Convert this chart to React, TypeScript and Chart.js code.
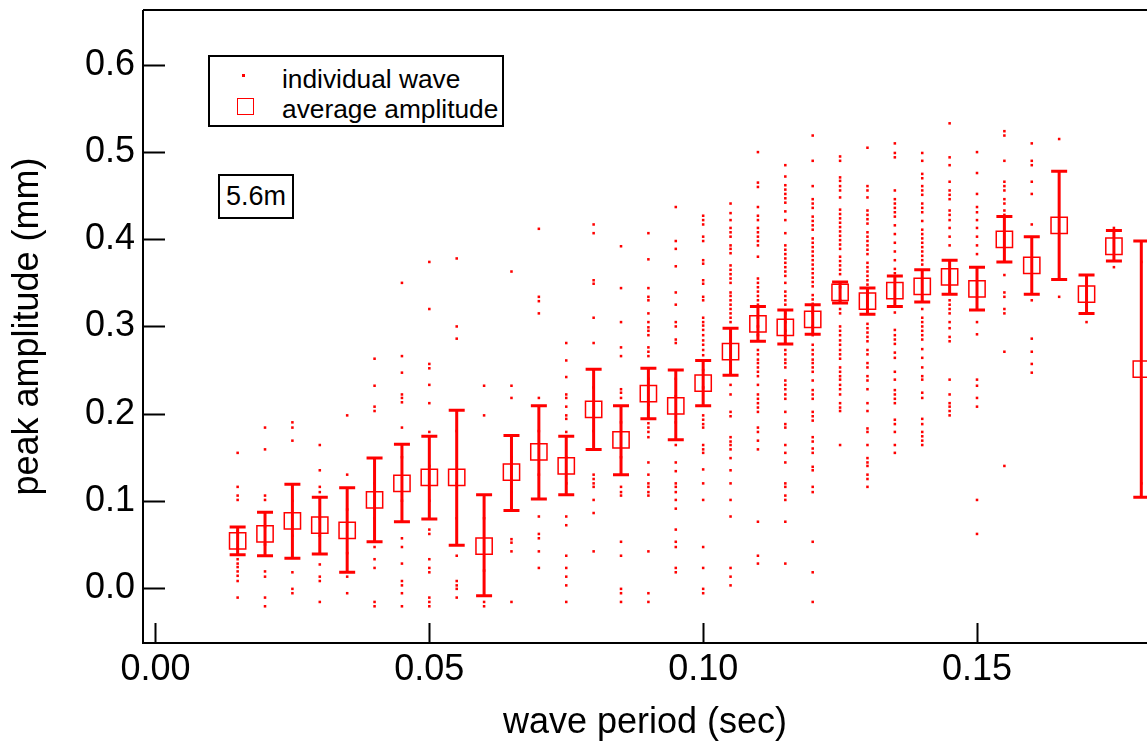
import React, { useEffect, useRef } from "react";
import { Chart, registerables } from "chart.js";

Chart.register(...registerables);

const FONT = '"Liberation Sans", Arial, Helvetica, sans-serif';
const RED = "#ff0000";

// wave period (sec) for each averaged bin
const periods = [
  0.015, 0.02, 0.025, 0.03, 0.035, 0.04, 0.045, 0.05, 0.055, 0.06, 0.065, 0.07,
  0.075, 0.08, 0.085, 0.09, 0.095, 0.1, 0.105, 0.11, 0.115, 0.12, 0.125, 0.13,
  0.135, 0.14, 0.145, 0.15, 0.155, 0.16, 0.165, 0.17, 0.175, 0.18,
];
// average peak amplitude (mm)
const avgAmp = [
  0.054, 0.062, 0.077, 0.072, 0.066, 0.101, 0.12, 0.127, 0.127, 0.048, 0.133,
  0.156, 0.14, 0.205, 0.17, 0.223, 0.209, 0.235, 0.271, 0.303, 0.299, 0.308,
  0.339, 0.329, 0.341, 0.346, 0.357, 0.343, 0.4, 0.37, 0.416, 0.337, 0.392, 0.251,
];
// error bar upper ends
const avgHigh = [
  0.07, 0.087, 0.119, 0.104, 0.115, 0.149, 0.165, 0.174, 0.204, 0.107, 0.175,
  0.209, 0.174, 0.251, 0.209, 0.252, 0.25, 0.261, 0.298, 0.323, 0.319, 0.325,
  0.351, 0.344, 0.358, 0.365, 0.376, 0.368, 0.426, 0.403, 0.478, 0.359, 0.41, 0.398,
];
// error bar lower ends
const avgLow = [
  0.038, 0.037, 0.034, 0.039, 0.018, 0.053, 0.076, 0.079, 0.049, -0.009, 0.089,
  0.102, 0.107, 0.159, 0.13, 0.194, 0.17, 0.209, 0.244, 0.283, 0.28, 0.291,
  0.327, 0.314, 0.323, 0.328, 0.337, 0.319, 0.374, 0.337, 0.354, 0.315, 0.375, 0.104,
];

// individual wave amplitudes, one list per period bin
const dots015 = [0.155, 0.116, 0.106, 0.101, 0.065, 0.045, 0.033, 0.028, 0.024, 0.019, 0.014, 0.008, -0.011];
const dots020 = [0.184, 0.159, 0.106, 0.101, 0.07, 0.05, 0.019, 0.013, -0.011, -0.021];
const dots025 = [0.19, 0.184, 0.169, 0.1, 0.06, 0.018, -0.001, -0.006];
const dots030 = [0.164, 0.135, 0.116, 0.11, 0.08, 0.06, 0.027, 0.013, 0.008, -0.016];
const dots035 = [0.198, 0.13, 0.09, 0.04, 0.013, -0.006];
const dots040 = [0.263, 0.232, 0.208, 0.203, 0.12, 0.08, 0.047, 0.033, 0.023, -0.016, -0.021];
const dots045 = [0.35, 0.266, 0.247, 0.222, 0.218, 0.213, 0.184, 0.15, 0.1, 0.057, 0.047, 0.028, 0.008, 0.003, -0.006, -0.021];
const dots050 = [0.374, 0.32, 0.257, 0.252, 0.233, 0.212, 0.179, 0.14, 0.1, 0.067, 0.062, 0.033, 0.023, 0.018, -0.011, -0.016, -0.021];
const dots055 = [0.378, 0.3, 0.286, 0.18, 0.12, 0.08, 0.037, 0.008, 0.003, -0.001, -0.011];
const dots060 = [0.232, 0.198, 0.08, 0.02, -0.016, -0.021];
const dots065 = [0.363, 0.232, 0.218, 0.15, 0.11, 0.056, 0.052, 0.042, -0.016];
const dots070 = [0.412, 0.334, 0.329, 0.315, 0.218, 0.18, 0.13, 0.082, 0.062, 0.057, 0.042, 0.023];
const dots075 = [0.281, 0.261, 0.242, 0.222, 0.218, 0.208, 0.198, 0.194, 0.179, 0.15, 0.12, 0.082, 0.072, 0.037, 0.023, 0.013, 0.003, -0.016];
const dots080 = [0.417, 0.407, 0.353, 0.349, 0.31, 0.281, 0.23, 0.18, 0.13, 0.125, 0.12, 0.116, 0.101, 0.086, 0.042];
const dots085 = [0.392, 0.344, 0.305, 0.276, 0.266, 0.228, 0.224, 0.218, 0.19, 0.15, 0.116, 0.11, 0.106, 0.053, 0.037, -0.001, -0.006, -0.016];
const dots090 = [0.407, 0.377, 0.344, 0.334, 0.33, 0.315, 0.305, 0.299, 0.295, 0.29, 0.276, 0.271, 0.266, 0.24, 0.21, 0.189, 0.184, 0.179, 0.173, 0.144, 0.13, 0.12, 0.116, 0.11, 0.106, 0.042, -0.006, -0.016];
const dots095 = [0.437, 0.398, 0.389, 0.369, 0.339, 0.325, 0.305, 0.3, 0.285, 0.281, 0.24, 0.22, 0.19, 0.164, 0.144, 0.134, 0.12, 0.116, 0.11, 0.101, 0.091, 0.067, 0.053, 0.047, 0.023, 0.018];
const dots100 = [0.427, 0.422, 0.417, 0.403, 0.398, 0.376, 0.372, 0.353, 0.349, 0.334, 0.33, 0.31, 0.305, 0.301, 0.296, 0.29, 0.284, 0.279, 0.273, 0.267, 0.25, 0.23, 0.198, 0.193, 0.188, 0.184, 0.164, 0.159, 0.155, 0.136, 0.12, 0.101, 0.047, 0.023, -0.001, -0.006];
const dots105 = [0.441, 0.43, 0.422, 0.413, 0.408, 0.403, 0.393, 0.389, 0.384, 0.37, 0.365, 0.36, 0.355, 0.35, 0.339, 0.335, 0.33, 0.325, 0.32, 0.315, 0.31, 0.305, 0.28, 0.26, 0.233, 0.222, 0.202, 0.197, 0.173, 0.168, 0.164, 0.159, 0.149, 0.135, 0.12, 0.101, 0.082, 0.023, 0.013, 0.003];
const dots110 = [0.5, 0.465, 0.46, 0.437, 0.427, 0.422, 0.413, 0.408, 0.403, 0.398, 0.393, 0.38, 0.355, 0.35, 0.345, 0.34, 0.335, 0.33, 0.325, 0.31, 0.3, 0.29, 0.273, 0.268, 0.262, 0.258, 0.253, 0.248, 0.243, 0.233, 0.222, 0.217, 0.212, 0.207, 0.202, 0.184, 0.179, 0.169, 0.159, 0.076, 0.037, 0.028];
const dots115 = [0.485, 0.472, 0.462, 0.457, 0.452, 0.447, 0.442, 0.432, 0.422, 0.407, 0.393, 0.388, 0.383, 0.378, 0.373, 0.368, 0.363, 0.358, 0.35, 0.34, 0.335, 0.33, 0.325, 0.315, 0.305, 0.295, 0.273, 0.268, 0.262, 0.258, 0.253, 0.238, 0.233, 0.228, 0.222, 0.217, 0.202, 0.188, 0.184, 0.164, 0.155, 0.144, 0.12, 0.116, 0.106, 0.101, 0.076, 0.028];
const dots120 = [0.519, 0.49, 0.461, 0.446, 0.441, 0.436, 0.426, 0.421, 0.416, 0.411, 0.401, 0.396, 0.391, 0.386, 0.381, 0.376, 0.371, 0.366, 0.361, 0.356, 0.351, 0.346, 0.336, 0.331, 0.326, 0.316, 0.3, 0.29, 0.279, 0.273, 0.268, 0.262, 0.258, 0.253, 0.248, 0.238, 0.227, 0.222, 0.217, 0.202, 0.197, 0.192, 0.173, 0.168, 0.16, 0.155, 0.139, 0.135, 0.116, 0.11, 0.053, 0.018, -0.016];
const dots125 = [0.495, 0.49, 0.471, 0.467, 0.461, 0.456, 0.448, 0.434, 0.429, 0.424, 0.419, 0.414, 0.409, 0.404, 0.399, 0.394, 0.389, 0.38, 0.375, 0.37, 0.365, 0.36, 0.35, 0.345, 0.33, 0.32, 0.315, 0.3, 0.295, 0.29, 0.284, 0.279, 0.273, 0.268, 0.263, 0.253, 0.248, 0.243, 0.239, 0.233, 0.228, 0.222, 0.212, 0.207, 0.203, 0.164];
const dots130 = [0.505, 0.461, 0.456, 0.448, 0.433, 0.428, 0.423, 0.418, 0.408, 0.403, 0.398, 0.393, 0.388, 0.383, 0.373, 0.368, 0.363, 0.358, 0.353, 0.348, 0.338, 0.303, 0.298, 0.293, 0.288, 0.283, 0.273, 0.268, 0.258, 0.253, 0.243, 0.238, 0.228, 0.212, 0.203, 0.183, 0.179, 0.164, 0.149, 0.144, 0.14, 0.13, 0.125, 0.116];
const dots135 = [0.51, 0.499, 0.494, 0.456, 0.446, 0.441, 0.436, 0.431, 0.426, 0.416, 0.406, 0.396, 0.386, 0.376, 0.366, 0.361, 0.316, 0.296, 0.29, 0.285, 0.28, 0.27, 0.264, 0.248, 0.239, 0.227, 0.222, 0.217, 0.212, 0.193, 0.188, 0.179, 0.164, 0.155];
const dots140 = [0.499, 0.49, 0.475, 0.47, 0.461, 0.456, 0.451, 0.441, 0.436, 0.431, 0.421, 0.411, 0.406, 0.401, 0.396, 0.391, 0.386, 0.381, 0.376, 0.371, 0.32, 0.31, 0.305, 0.3, 0.295, 0.29, 0.285, 0.274, 0.264, 0.253, 0.243, 0.239, 0.224, 0.218, 0.194, 0.188, 0.179, 0.174, 0.169, 0.164];
const dots145 = [0.533, 0.494, 0.485, 0.466, 0.456, 0.451, 0.446, 0.433, 0.428, 0.422, 0.413, 0.403, 0.393, 0.33, 0.325, 0.32, 0.315, 0.305, 0.298, 0.288, 0.283, 0.239, 0.222, 0.212, 0.208, 0.203, 0.198];
const dots150 = [0.5, 0.476, 0.452, 0.437, 0.431, 0.422, 0.413, 0.403, 0.393, 0.383, 0.305, 0.291, 0.239, 0.232, 0.218, 0.208, 0.101, 0.062];
const dots155 = [0.524, 0.519, 0.49, 0.466, 0.461, 0.456, 0.446, 0.441, 0.433, 0.428, 0.359, 0.339, 0.334, 0.32, 0.315, 0.271, 0.14];
const dots160 = [0.51, 0.49, 0.485, 0.466, 0.452, 0.417, 0.33, 0.286, 0.271, 0.257, 0.247];
const dots165 = [0.515, 0.334];
const dots170 = [0.305];
const dots175 = [0.413, 0.368];
const dots180 = [0.374, 0.12];

const dotColumns = [
  dots015, dots020, dots025, dots030, dots035, dots040, dots045, dots050, dots055,
  dots060, dots065, dots070, dots075, dots080, dots085, dots090, dots095, dots100,
  dots105, dots110, dots115, dots120, dots125, dots130, dots135, dots140, dots145,
  dots150, dots155, dots160, dots165, dots170, dots175, dots180,
];

const xTickValues = [0, 0.05, 0.1, 0.15];
const yTickValues = [0, 0.1, 0.2, 0.3, 0.4, 0.5, 0.6];

const X_MIN = -0.00228;
const X_MAX = 0.18104;
const Y_MIN = -0.0631;
const Y_MAX = 0.663;

export default function App() {
  const ref = useRef<HTMLCanvasElement>(null);

  useEffect(() => {
    const canvas = ref.current;
    if (!canvas) return;

    const dotPoints = dotColumns.flatMap((ys, i) => ys.map((y) => ({ x: periods[i], y })));
    const avgPoints = periods.map((x, i) => ({ x, y: avgAmp[i] }));

    const errorBars = {
      id: "errorBars",
      afterDatasetsDraw(chart: any) {
        const { ctx, scales } = chart;
        const xs = scales.x;
        const ys = scales.y;
        ctx.save();
        ctx.strokeStyle = RED;
        ctx.lineWidth = 3;
        ctx.lineCap = "butt";
        periods.forEach((p, i) => {
          const x = xs.getPixelForValue(p);
          const yh = ys.getPixelForValue(avgHigh[i]);
          const yl = ys.getPixelForValue(avgLow[i]);
          ctx.beginPath();
          ctx.moveTo(x, yh);
          ctx.lineTo(x, yl);
          ctx.moveTo(x - 8, yh);
          ctx.lineTo(x + 8, yh);
          ctx.moveTo(x - 8, yl);
          ctx.lineTo(x + 8, yl);
          ctx.stroke();
        });
        ctx.restore();
      },
    };

    const frame = {
      id: "frame",
      afterDraw(chart: any) {
        const { ctx, chartArea, scales } = chart;
        const { left, right, top, bottom } = chartArea;
        ctx.save();
        ctx.strokeStyle = "#000";
        ctx.lineWidth = 2;
        ctx.beginPath();
        ctx.moveTo(left, top);
        ctx.lineTo(right + 2, top);
        ctx.moveTo(left, top);
        ctx.lineTo(left, bottom + 1);
        ctx.moveTo(left - 1, bottom);
        ctx.lineTo(right + 2, bottom);
        xTickValues.forEach((v) => {
          const x = Math.round(scales.x.getPixelForValue(v)) + 0.5;
          ctx.moveTo(x, bottom);
          ctx.lineTo(x, bottom - 20);
        });
        yTickValues.forEach((v) => {
          const y = Math.round(scales.y.getPixelForValue(v)) + 0.5;
          ctx.moveTo(left, y);
          ctx.lineTo(left + 22, y);
        });
        ctx.stroke();
        ctx.restore();
      },
    };

    const chart = new Chart(canvas, {
      type: "scatter",
      data: {
        datasets: [
          {
            label: "individual wave",
            data: dotPoints,
            pointStyle: "rect",
            pointRadius: 1.8,
            pointHoverRadius: 1.8,
            pointBorderWidth: 0,
            pointBackgroundColor: RED,
            borderColor: RED,
            backgroundColor: RED,
          },
          {
            label: "average amplitude",
            data: avgPoints,
            pointStyle: "rect",
            pointRadius: 11.5,
            pointHoverRadius: 11.5,
            pointBorderWidth: 1.5,
            pointBorderColor: RED,
            pointBackgroundColor: "rgba(0,0,0,0)",
            borderColor: RED,
            backgroundColor: "rgba(0,0,0,0)",
          },
        ],
      },
      options: {
        responsive: false,
        animation: false,
        events: [],
        layout: { autoPadding: false, padding: { top: 10, left: 0, right: 0, bottom: 0 } },
        plugins: {
          legend: { display: false },
          tooltip: { enabled: false },
        },
        scales: {
          x: {
            type: "linear",
            min: X_MIN,
            max: X_MAX,
            afterFit(s: any) {
              s.height = 105;
              s.paddingLeft = 0;
              s.paddingRight = 0;
              s.paddingTop = 0;
              s.paddingBottom = 0;
            },
            afterBuildTicks(s: any) {
              s.ticks = xTickValues.map((v) => ({ value: v }));
            },
            grid: { display: false, drawTicks: false },
            border: { display: false },
            ticks: {
              color: "#000",
              font: { family: FONT, size: 36 },
              padding: 5,
              maxRotation: 0,
              autoSkip: false,
              callback: (v: any) => Number(v).toFixed(2),
            },
            title: {
              display: true,
              text: "wave period (sec)",
              color: "#000",
              font: { family: FONT, size: 36 },
              padding: { top: 0, bottom: 3 },
            },
          },
          y: {
            type: "linear",
            min: Y_MIN,
            max: Y_MAX,
            afterFit(s: any) {
              s.width = 143;
              s.paddingLeft = 0;
              s.paddingRight = 0;
              s.paddingTop = 0;
              s.paddingBottom = 0;
            },
            afterBuildTicks(s: any) {
              s.ticks = yTickValues.map((v) => ({ value: v }));
            },
            grid: { display: false, drawTicks: false },
            border: { display: false },
            ticks: {
              color: "#000",
              font: { family: FONT, size: 36 },
              padding: 8,
              autoSkip: false,
              callback: (v: any) => Number(v).toFixed(1),
            },
            title: {
              display: true,
              text: "peak amplitude (mm)",
              color: "#000",
              font: { family: FONT, size: 36 },
              padding: { top: 6, bottom: 0 },
            },
          },
        },
      },
      plugins: [errorBars, frame],
    } as any);

    return () => chart.destroy();
  }, []);

  return (
    <div
      style={{
        position: "fixed",
        left: 0,
        top: 0,
        width: 1147,
        height: 748,
        background: "#fff",
        overflow: "hidden",
        fontFamily: FONT,
      }}
    >
      <canvas ref={ref} width={1147} height={748} style={{ display: "block" }} />
      <div
        style={{
          position: "absolute",
          left: 208,
          top: 55,
          width: 296,
          height: 72,
          border: "2px solid #000",
          boxSizing: "border-box",
          background: "#fff",
        }}
      >
        <div
          style={{
            position: "absolute",
            left: 32,
            top: 17,
            width: 2.5,
            height: 2.5,
            background: RED,
          }}
        />
        <div
          style={{
            position: "absolute",
            left: 27,
            top: 41,
            width: 17,
            height: 17,
            border: `1.5px solid ${RED}`,
            boxSizing: "border-box",
          }}
        />
        <span
          style={{
            position: "absolute",
            left: 72,
            top: 7,
            fontSize: 26.3,
            lineHeight: "30px",
            whiteSpace: "nowrap",
            color: "#000",
          }}
        >
          individual wave
        </span>
        <span
          style={{
            position: "absolute",
            left: 72,
            top: 37,
            fontSize: 26.3,
            lineHeight: "30px",
            whiteSpace: "nowrap",
            color: "#000",
          }}
        >
          average amplitude
        </span>
      </div>
      <div
        style={{
          position: "absolute",
          left: 218,
          top: 174,
          width: 76,
          height: 45,
          border: "2px solid #000",
          boxSizing: "border-box",
          background: "#fff",
          fontSize: 27,
          lineHeight: "41px",
          textAlign: "center",
          color: "#000",
          whiteSpace: "nowrap",
        }}
      >
        5.6m
      </div>
    </div>
  );
}
